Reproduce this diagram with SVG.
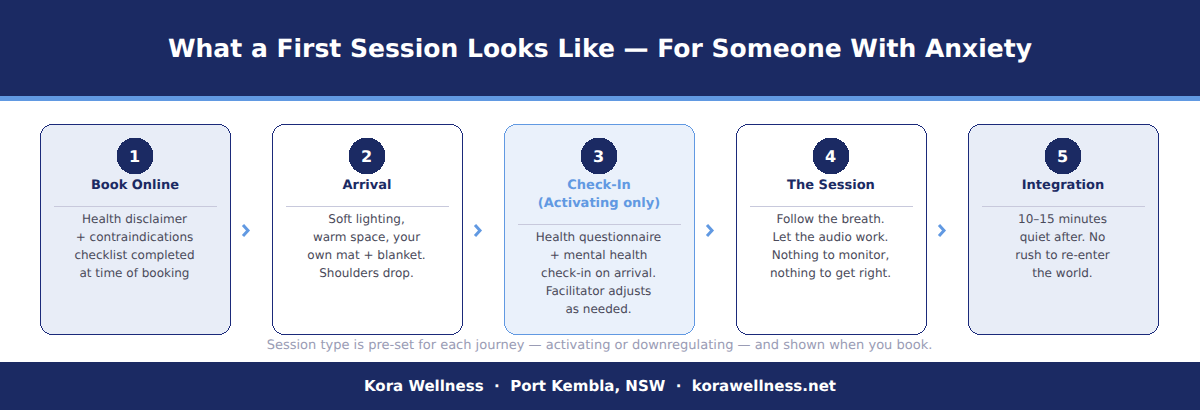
<svg xmlns="http://www.w3.org/2000/svg" width="1200" height="410" viewBox="0 0 1200 410">
<style>
text{font-family:"DejaVu Sans",sans-serif;text-anchor:middle;text-rendering:geometricPrecision}
rect,circle,line{shape-rendering:crispEdges}
.card{stroke:#1b2a7a;stroke-width:1}
.tint{fill:#e8edf7}.plain{fill:#fff}.hl{fill:#eaf1fb;stroke:#6199e2}
.num{fill:#1b2a63}
.n{fill:#fff;font-size:16px;font-weight:700}
.t{fill:#1b2a63;font-size:13px;font-weight:700}
.ta{fill:#6199e2}
.b{fill:#4a4a5a;font-size:12px}
.d{stroke:#c8c9dc;stroke-width:1}
.ch{fill:none;stroke:#6199e2;stroke-width:3}
</style>
<rect width="1200" height="410" fill="#fff"/>
<g id="header"><rect width="1200" height="96" fill="#1b2a63"/><rect y="96" width="1200" height="5" fill="#6199e2"/>
<text x="600" y="57" font-size="25" font-weight="700" fill="#fff">What a First Session Looks Like — For Someone With Anxiety</text></g>
<g id="connectors">
<path class="ch" d="M243 225l5 5.500-5 5.500"/><path class="ch" d="M475 225l5 5.500-5 5.500"/><path class="ch" d="M707 225l5 5.500-5 5.500"/><path class="ch" d="M939 225l5 5.500-5 5.500"/>
</g>
<g id="node1"><rect class="card tint" x="40.500" y="124.500" width="190" height="210" rx="12"/><circle class="num" cx="135" cy="156" r="18.500"/><text class="n" x="134.500" y="162">1</text><text class="t" x="135" y="189">Book Online</text><line class="d" x1="54" y1="206.500" x2="217" y2="206.500"/>
<text class="b" x="134.500" y="223">Health disclaimer</text><text class="b" x="134.500" y="241">+ contraindications</text><text class="b" x="134.500" y="259">checklist completed</text><text class="b" x="134.500" y="277">at time of booking</text></g>
<g id="node2"><rect class="card plain" x="272.500" y="124.500" width="190" height="210" rx="12"/><circle class="num" cx="367" cy="156" r="18.500"/><text class="n" x="366.500" y="162">2</text><text class="t" x="367" y="189">Arrival</text><line class="d" x1="286" y1="206.500" x2="449" y2="206.500"/>
<text class="b" x="366.500" y="223">Soft lighting,</text><text class="b" x="366.500" y="241">warm space, your</text><text class="b" x="366.500" y="259">own mat + blanket.</text><text class="b" x="366.500" y="277">Shoulders drop.</text></g>
<g id="node3"><rect class="card hl" x="504.500" y="124.500" width="190" height="210" rx="12"/><circle class="num" cx="599" cy="156" r="18.500"/><text class="n" x="598.500" y="162">3</text><text class="t ta" x="599" y="189">Check-In</text><text class="t ta" x="599" y="207">(Activating only)</text><line class="d" x1="518" y1="224.500" x2="681" y2="224.500"/>
<text class="b" x="598.500" y="241">Health questionnaire</text><text class="b" x="598.500" y="259">+ mental health</text><text class="b" x="598.500" y="277">check-in on arrival.</text><text class="b" x="598.500" y="295">Facilitator adjusts</text><text class="b" x="598.500" y="313">as needed.</text></g>
<g id="node4"><rect class="card plain" x="736.500" y="124.500" width="190" height="210" rx="12"/><circle class="num" cx="831" cy="156" r="18.500"/><text class="n" x="830.500" y="162">4</text><text class="t" x="831" y="189">The Session</text><line class="d" x1="750" y1="206.500" x2="913" y2="206.500"/>
<text class="b" x="830.500" y="223">Follow the breath.</text><text class="b" x="830.500" y="241">Let the audio work.</text><text class="b" x="830.500" y="259">Nothing to monitor,</text><text class="b" x="830.500" y="277">nothing to get right.</text></g>
<g id="node5"><rect class="card tint" x="968.500" y="124.500" width="190" height="210" rx="12"/><circle class="num" cx="1063" cy="156" r="18.500"/><text class="n" x="1062.500" y="162">5</text><text class="t" x="1063" y="189">Integration</text><line class="d" x1="982" y1="206.500" x2="1145" y2="206.500"/>
<text class="b" x="1062.500" y="223">10–15 minutes</text><text class="b" x="1062.500" y="241">quiet after. No</text><text class="b" x="1062.500" y="259">rush to re-enter</text><text class="b" x="1062.500" y="277">the world.</text></g>
<text x="599.500" y="349" font-size="13" fill="#9a9cb5">Session type is pre-set for each journey — activating or downregulating — and shown when you book.</text>
<g id="footer"><rect y="362" width="1200" height="48" fill="#1b2a63"/><text x="600" y="391" font-size="15" font-weight="700" fill="#fff" xml:space="preserve">Kora Wellness  ·  Port Kembla, NSW  ·  korawellness.net</text></g>
</svg>
